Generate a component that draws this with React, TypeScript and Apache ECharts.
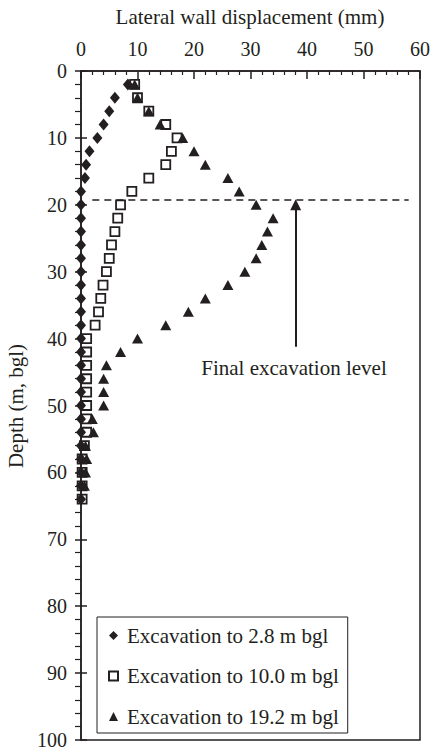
import React, { useEffect, useRef } from "react";
import * as echarts from "echarts";

const depths = [2, 4, 6, 8, 10, 12, 14, 16, 18, 20, 22, 24, 26, 28, 30, 32, 34, 36, 38, 40, 42, 44, 46, 48, 50, 52, 54, 56, 58, 60, 62, 64];
const exc28 = [8.3, 6.0, 5.0, 4.0, 2.9, 1.5, 0.9, 0.7, 0, 0, 0, 0, 0, 0, 0, 0, 0, 0, 0, 0, 0, 0, 0, 0, 0, 0, 0, 0, 0, 0, 0, 0];
const exc100 = [9.5, 10.0, 12.0, 15.0, 17.0, 16.0, 15.0, 12.0, 9.0, 7.0, 6.5, 6.0, 5.4, 5.0, 4.5, 3.9, 3.5, 3.1, 2.5, 1.0, 1.0, 1.0, 1.0, 1.0, 1.0, 1.0, 1.0, 0.6, 0.2, 0.2, 0.2, 0.2];
const exc192 = [9.5, 10.0, 12.0, 14.0, 18.0, 20.0, 22.0, 26.0, 28.0, 31.0, 34.0, 33.0, 32.0, 31.0, 29.0, 26.0, 22.0, 19.0, 15.0, 10.0, 7.0, 4.5, 4.0, 4.0, 4.0, 2.0, 2.2, 0.8, 1.0, 0.8, 0.6];
const seriesNames = ["Excavation to 2.8 m bgl", "Excavation to 10.0 m bgl", "Excavation to 19.2 m bgl"];
const finalLevel = 19.2;
const dashFromTo = [2, 58];
const arrowX = 38;
const arrowFromDepth = 41.2;

const FONT = "Liberation Serif";
const INK = "#231f20";

export default function App() {
  const ref = useRef<HTMLDivElement>(null);
  useEffect(() => {
    if (!ref.current) return;
    const chart = echarts.init(ref.current, undefined, { renderer: "svg" });
    const toPts = (xs: number[]) => xs.map((x, i) => [x, depths[i]]);
    chart.setOption({
      animation: false,
      backgroundColor: "#fff",
      textStyle: { fontFamily: FONT, color: INK },
      grid: {
        left: 81, top: 71, width: 339, height: 670,
        show: true, borderColor: INK, borderWidth: 1.5, backgroundColor: "transparent",
      },
      xAxis: {
        type: "value", position: "top", min: 0, max: 60, interval: 10,
        axisLine: { show: true, lineStyle: { color: INK, width: 1.5 } },
        axisTick: { show: true, inside: true, length: 8, lineStyle: { color: INK, width: 1.5 } },
        minorTick: { show: true, splitNumber: 5, length: 4, lineStyle: { color: INK, width: 1.2 } },
        axisLabel: { fontFamily: FONT, fontSize: 20, color: INK, margin: 12 },
        splitLine: { show: false },
      },
      yAxis: [
        {
          type: "value", inverse: true, min: 0, max: 100, interval: 10,
          axisLine: { show: true, lineStyle: { color: INK, width: 1.5 } },
          axisTick: { show: true, inside: false, length: 6, lineStyle: { color: INK, width: 1.5 } },
          minorTick: { show: true, splitNumber: 5, length: 6, lineStyle: { color: INK, width: 1.2 } },
          axisLabel: { fontFamily: FONT, fontSize: 20, color: INK, margin: 14 },
          splitLine: { show: false },
        },
        {
          type: "value", inverse: true, min: 0, max: 100, interval: 10, position: "left",
          axisLine: { show: false },
          axisTick: { show: true, inside: true, length: 6, lineStyle: { color: INK, width: 1.5 } },
          axisLabel: { show: false },
          splitLine: { show: false },
        },
      ],
      legend: {
        orient: "vertical", left: 97, top: 617,
        data: seriesNames,
        padding: [8, 9, 6, 11],
        itemGap: 19.5,
        itemWidth: 9, itemHeight: 9,
        borderColor: INK, borderWidth: 1,
        backgroundColor: "#fff",
        textStyle: { fontFamily: FONT, fontSize: 21, color: INK, padding: [0, 0, 0, 4] },
        selectedMode: false,
      },
      series: [
        {
          name: seriesNames[1], type: "scatter", z: 2,
          symbol: "rect", symbolSize: 9,
          itemStyle: { color: "#fff", borderColor: INK, borderWidth: 1.8, opacity: 1 },
          data: toPts(exc100),
        },
        {
          name: seriesNames[0], type: "scatter", z: 3,
          symbol: "diamond", symbolSize: [10, 12],
          itemStyle: { color: INK, opacity: 1 },
          data: toPts(exc28),
        },
        {
          name: seriesNames[2], type: "scatter", z: 4,
          symbol: "triangle", symbolSize: [11, 10],
          itemStyle: { color: INK, opacity: 1 },
          data: toPts(exc192),
        },
        {
          name: "annotations", type: "scatter", data: [], z: 1, silent: true,
          markLine: {
            silent: true, animation: false,
            symbol: ["none", "none"],
            label: { show: false },
            lineStyle: { color: INK, width: 2, type: "solid" },
            emphasis: { disabled: true },
            data: [
              [
                { coord: [dashFromTo[0], finalLevel], lineStyle: { type: [7, 5], width: 1.5, color: INK } },
                { coord: [dashFromTo[1], finalLevel], lineStyle: { type: [7, 5], width: 1.5, color: INK } },
              ],
              [
                { coord: [arrowX, arrowFromDepth], symbol: "none" },
                { coord: [arrowX, finalLevel + 0.8], symbol: "triangle", symbolSize: [11, 11] },
              ],
            ],
          },
        },
      ],
      graphic: [
        {
          type: "text", x: 250, y: 17,
          style: { text: "Lateral wall displacement (mm)", fontFamily: FONT, fontSize: 21, fill: INK, align: "center", verticalAlign: "middle" },
        },
        {
          type: "text", x: 16, y: 406, rotation: Math.PI / 2,
          style: { text: "Depth (m, bgl)", fontFamily: FONT, fontSize: 21, fill: INK, align: "center", verticalAlign: "middle" },
        },
        {
          type: "text", x: 294, y: 368,
          style: { text: "Final excavation level", fontFamily: FONT, fontSize: 21, fill: INK, align: "center", verticalAlign: "middle" },
        },
      ],
    });
    return () => chart.dispose();
  }, []);
  return <div ref={ref} style={{ position: "fixed", left: 0, top: 0, width: 433, height: 750 }} />;
}
